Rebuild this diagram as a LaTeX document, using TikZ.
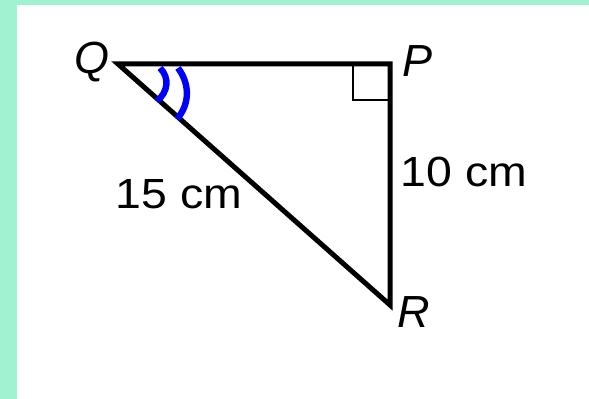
\documentclass[tikz,border=0pt]{standalone}
\usepackage{fontspec}
\setmainfont{Liberation Sans}
\definecolor{mint}{RGB}{160,242,208}
\tikzset{
  lbl/.style={font=\fontsize{30}{36}\selectfont, inner sep=0pt, xscale=1.1},
  vlbl/.style={font=\fontsize{32}{36}\selectfont\itshape, inner sep=0pt}
}
\begin{document}
\begin{tikzpicture}[x=0.025cm, y=-0.025cm]
        % page and frame
        \fill[white] (0,0) rectangle (589,399);
        \fill[mint] (0,0) rectangle (589,5);
        \fill[mint] (0,0) rectangle (17,399);
        \useasboundingbox (0,0) rectangle (589,399);
        % triangle
        \coordinate (Q) at (118,64);
        \coordinate (P) at (390,64);
        \coordinate (R) at (390,305);
        \draw[line width=0.125cm, line join=miter] (Q) -- (P) -- (R) -- cycle;
        \draw[line width=0.055cm] (390,100) -| (353,64);
        % angle marks at Q
        \draw[blue, line width=0.16cm] (160,68) .. controls (170,78) and (168,92) .. (157,101);
        \draw[blue, line width=0.16cm] (178,68) .. controls (190,84) and (190,104) .. (177,119);
        % labels
        \node[vlbl] (q) at (92,62) {Q};
        \node[vlbl] (p) at (417,61) {P};
        \node[vlbl] (r) at (414,312) {R};
        \node[lbl] (qr) at (179,194) {15 cm};
        \node[lbl] (pr) at (464,172) {10 cm};
    \end{tikzpicture}
\end{document}
